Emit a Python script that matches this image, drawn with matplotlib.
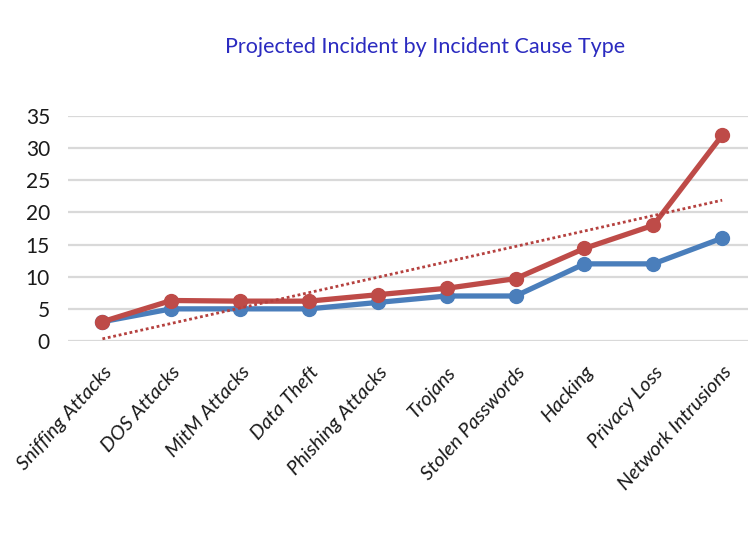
import numpy as np
import matplotlib.pyplot as plt

plt.rcParams['font.family'] = ['Lato', 'DejaVu Sans']

cause_types = ['Sniffing Attacks', 'DOS Attacks', 'MitM Attacks', 'Data Theft',
               'Phishing Attacks', 'Trojans', 'Stolen Passwords', 'Hacking',
               'Privacy Loss', 'Network Intrusions']
current = [3, 5, 5, 5, 6, 7, 7, 12, 12, 16]
projected = [3, 6.3, 6.2, 6.2, 7.2, 8.2, 9.7, 14.4, 18, 32]

x = np.arange(len(cause_types))

# linear trend of the projected series
a, b = np.polyfit(x, projected, 1)
trend = a * x + b

fig = plt.figure(figsize=(7.48, 5.35), dpi=100)
ax = fig.add_axes([68 / 748, (535 - 341) / 535, 680 / 748, 225 / 535])

ax.plot(x, current, color='#4A7EBB', lw=3.8, marker='o', ms=10, zorder=3)
ax.plot(x, projected, color='#BE4B48', lw=3.8, marker='o', ms=10, zorder=4)
ax.plot(x, trend, color='#B5413F', lw=2, linestyle=(0, (1, 1)), zorder=5)

ax.set_xlim(-0.5, 9.375)
ax.set_ylim(0, 35)
ax.set_yticks(range(0, 36, 5))
ax.grid(axis='y', color='#D9D9D9', lw=1.6, zorder=0)
ax.set_axisbelow(True)
for s in ax.spines.values():
    s.set_visible(False)
ax.tick_params(length=0)
ax.tick_params(axis='y', labelsize=15, pad=13, labelcolor='#1A1A1A')

ax.set_xticks(x)
ax.set_xticklabels(cause_types, rotation=48, ha='right', va='top',
                   rotation_mode='anchor', fontsize=14.5, style='italic',
                   color='#1A1A1A')
ax.tick_params(axis='x', pad=16)

fig.text(425 / 748, 1 - 47 / 535, 'Projected Incident by Incident Cause Type',
         ha='center', va='center', fontsize=15.5, color='#2B2BC0')

plt.savefig('out.png', dpi=100)
